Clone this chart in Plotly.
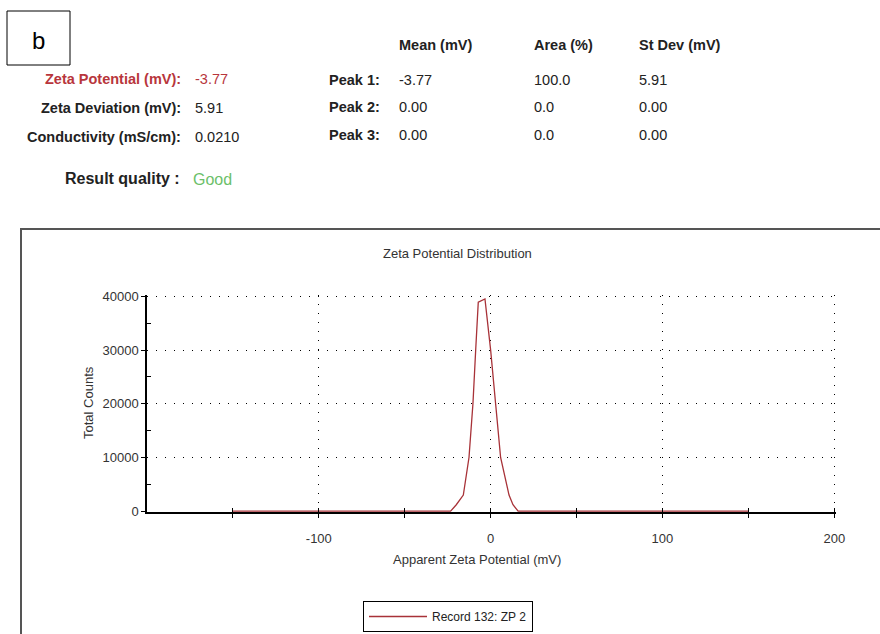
import plotly.graph_objects as go

# ---- data ----
x_mv = [-150, -23.3, -20.0, -15.9, -12.6, -10.3, -8.7, -7.2, -3.3, 0.0, 2.9, 5.8, 10.7, 13.0, 16.0, 150]
counts = [0, 0, 1200, 3000, 10000, 20000, 30000, 38900, 39500, 30000, 20000, 10000, 3000, 1200, 0, 0]

record_name = "Record 132: ZP 2"

summary_labels = ["Zeta Potential (mV):", "Zeta Deviation (mV):", "Conductivity (mS/cm):"]
summary_values = ["-3.77", "5.91", "0.0210"]

table_headers = ["Mean (mV)", "Area (%)", "St Dev (mV)"]
peak_labels = ["Peak 1:", "Peak 2:", "Peak 3:"]
peak_mean = ["-3.77", "0.00", "0.00"]
peak_area = ["100.0", "0.0", "0.0"]
peak_sd = ["5.91", "0.00", "0.00"]

x_major = [-100, 0, 100, 200]
x_major_text = ["-100", "0", "100", "200"]
x_minor = [-150, -50, 50, 150]
y_major = [0, 10000, 20000, 30000, 40000]
y_major_text = ["0", "10000", "20000", "30000", "40000"]
y_minor = [5000, 15000, 25000, 35000]

# ---- layout geometry (pixels) ----
W, H = 880, 634
L, R, T, B = 147, 836, 295, 512
FONT = "Liberation Sans, Arial, sans-serif"
RED_TXT = "#b8363c"
GREEN_TXT = "#6cbf6a"
LINE_RED = "#a83238"


def pxx(x):
    return (x - L) / (R - L)


def pxy(y):
    return (B - y) / (B - T)


fig = go.Figure()
fig.add_trace(go.Scatter(
    x=x_mv, y=counts, mode="lines", name=record_name,
    line=dict(color=LINE_RED, width=1.3), hoverinfo="x+y",
))

ann = []


def text(x, y, s, size=14, bold=False, color="#222", xanchor="left", textangle=0):
    ann.append(dict(
        x=pxx(x), y=pxy(y), xref="paper", yref="paper", showarrow=False,
        text=f"<b>{s}</b>" if bold else s, xanchor=xanchor, yanchor="middle",
        font=dict(family=FONT, size=size, color=color), textangle=textangle,
    ))


# panel label
text(38, 40, "b", size=24, color="#000", xanchor="center")

# summary block
rows_y = [79, 108, 137]
for i, (lab, val) in enumerate(zip(summary_labels, summary_values)):
    c = RED_TXT if i == 0 else "#222"
    text(183, rows_y[i], lab, size=14.5, bold=True, color=c, xanchor="right")
    text(193, rows_y[i], val, size=14.5, color=c)
text(182, 178, "Result quality :", size=16, bold=True, xanchor="right")
text(191, 179, "Good", size=16, color=GREEN_TXT)

# peak table
col_x = [397, 532, 637]
for cx, h in zip(col_x, table_headers):
    text(cx, 45, h, size=14.5, bold=True)
trows = [80, 107, 135]
for i in range(3):
    text(382, trows[i], peak_labels[i], size=14.5, bold=True, xanchor="right")
    text(col_x[0], trows[i], peak_mean[i], size=14.5)
    text(col_x[1], trows[i], peak_area[i], size=14.5)
    text(col_x[2], trows[i], peak_sd[i], size=14.5)

# chart titles
text(457, 253, "Zeta Potential Distribution", size=13, color="#333", xanchor="center")
text(88, 403, "Total Counts", size=13, color="#333", xanchor="center", textangle=-90)
text(477, 559, "Apparent Zeta Potential (mV)", size=13, color="#333", xanchor="center")

shapes = [
    dict(type="rect", xref="paper", yref="paper",
         x0=pxx(7), x1=pxx(70), y0=pxy(11), y1=pxy(65),
         line=dict(color="#000", width=1), layer="below"),
    dict(type="rect", xref="paper", yref="paper",
         x0=pxx(21), x1=pxx(900), y0=pxy(229), y1=pxy(660),
         line=dict(color="#555", width=2), layer="below"),
]

grid_dash = "1px,8px"

fig.update_layout(
    width=W, height=H,
    margin=dict(l=L, r=W - R, t=T, b=H - B, autoexpand=False),
    paper_bgcolor="white", plot_bgcolor="white",
    font=dict(family=FONT, size=13, color="#333"),
    annotations=ann, shapes=shapes,
    showlegend=True,
    legend=dict(
        x=pxx(363), y=pxy(601), xanchor="left", yanchor="top",
        bordercolor="#000", borderwidth=1, bgcolor="white",
        font=dict(family=FONT, size=12, color="#222"),
        itemwidth=58, tracegroupgap=0,
    ),
    xaxis=dict(
        range=[-200, 201], tickmode="array", tickvals=x_major, ticktext=x_major_text,
        ticks="outside", ticklen=4, tickcolor="#000", tickwidth=1,
        ticklabelstandoff=10,
        showline=True, linecolor="#000", linewidth=1.5,
        showgrid=True, gridcolor="#000", gridwidth=1, griddash=grid_dash,
        zeroline=False, layer="below traces",
        tickfont=dict(family=FONT, size=13, color="#333"),
        minor=dict(tickmode="array", tickvals=x_minor, ticks="outside",
                   ticklen=4, tickcolor="#000", showgrid=False),
    ),
    xaxis2=dict(
        overlaying="x", anchor="y", side="bottom", matches="x",
        range=[-200, 201], tickmode="array", tickvals=x_minor + x_major,
        ticks="inside", ticklen=4, tickcolor="#000", showticklabels=False,
        showgrid=False, showline=False, zeroline=False,
    ),
    yaxis=dict(
        range=[-150, 40250], tickmode="array", tickvals=y_major, ticktext=y_major_text,
        ticks="outside", ticklen=4, tickcolor="#000", tickwidth=1,
        showline=True, linecolor="#000", linewidth=1.5,
        showgrid=True, gridcolor="#000", gridwidth=1, griddash=grid_dash,
        zeroline=False, layer="below traces",
        tickfont=dict(family=FONT, size=13, color="#333"),
        minor=dict(tickmode="array", tickvals=y_minor, ticks="inside",
                   ticklen=4, tickcolor="#000", showgrid=False),
    ),
)

# hidden companion trace so the overlaid tick axis is drawn
fig.add_trace(go.Scatter(
    x=x_mv, y=counts, xaxis="x2", mode="lines", showlegend=False,
    line=dict(width=0, color="rgba(0,0,0,0)"), hoverinfo="skip",
))

fig.write_html("out.html")
